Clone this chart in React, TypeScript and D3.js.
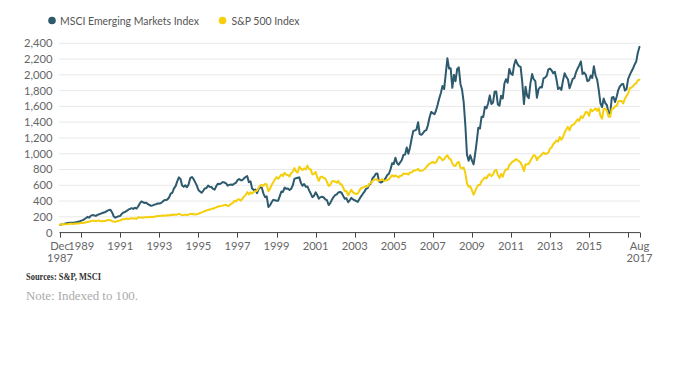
import React from "react";
import * as d3 from "d3";

const W = 682;
const H = 377;

const seriesNames = ["MSCI Emerging Markets Index", "S&P 500 Index"];
const seriesColors = ["#2d5a6d", "#f5cf0c"];

const startDate = new Date(1987, 11, 1);
const endDate = new Date(2017, 7, 1);

// Monthly values, Dec 1987 = 100, then Jan 1988 ... Aug 2017
const emValues: number[] = [
  100,
  103, 108, 114, 118, 121, 124, 126, 125, 128, 133, 137, 140,
  152, 158, 170, 185, 200, 190, 215, 222, 218, 212, 225, 232,
  240, 248, 255, 262, 275, 285, 290, 255, 205, 190, 200, 207,
  212, 240, 255, 262, 275, 290, 300, 310, 300, 315, 305, 331,
  370, 395, 385, 375, 380, 360, 350, 340, 345, 355, 360, 369,
  370, 375, 390, 410, 412, 420, 445, 495, 505, 560, 590, 650,
  700, 680, 600, 580, 600, 575, 610, 690, 705, 680, 640, 598,
  540, 520, 505, 530, 560, 565, 595, 580, 578, 555, 545, 590,
  620, 615, 625, 640, 635, 625, 595, 605, 610, 605, 620, 630,
  665, 680, 665, 665, 685, 705, 718, 640, 650, 560, 540, 545,
  500, 555, 575, 570, 495, 450, 460, 325, 345, 385, 415, 410,
  405, 405, 460, 520, 515, 570, 555, 560, 540, 555, 600, 680,
  690, 695, 700, 630, 595, 615, 580, 585, 535, 495, 450, 465,
  510, 475, 430, 450, 455, 445, 420, 410, 350, 375, 415, 450,
  475, 485, 510, 515, 505, 465, 430, 435, 385, 410, 440, 420,
  410, 400, 390, 425, 460, 490, 515, 555, 565, 610, 620, 690,
  710, 745, 750, 650, 635, 645, 660, 690, 730, 745, 800, 880,
  870, 950, 885, 860, 890, 920, 985, 990, 1080, 1000, 1080, 1190,
  1290, 1295, 1305, 1400, 1250, 1240, 1260, 1290, 1300, 1360, 1460, 1530,
  1515, 1500, 1545, 1620, 1700, 1770, 1860, 1820, 2020, 2210, 2080, 2085,
  1835, 2000, 1920, 2075, 2095, 1885, 1810, 1650, 1355, 990, 910, 980,
  915, 865, 990, 1150, 1330, 1320, 1470, 1465, 1595, 1575, 1640, 1740,
  1630, 1650, 1785, 1790, 1625, 1610, 1735, 1700, 1890, 1945, 1900, 2075,
  2015, 2000, 2125, 2190, 2140, 2110, 2100, 1905, 1630, 1850, 1730, 1705,
  1895, 2010, 1945, 1920, 1710, 1820, 1845, 1840, 1955, 1965, 1990, 2070,
  2080, 2055, 2020, 2040, 1945, 1820, 1840, 1810, 1930, 2020, 1975, 1945,
  1830, 1890, 1950, 1960, 2030, 2080, 2120, 2170, 2010, 2030, 2000, 1920,
  1930, 1990, 1960, 2110, 1995, 1940, 1810, 1640, 1590, 1700, 1640, 1615,
  1515, 1510, 1710, 1720, 1655, 1725, 1810, 1855, 1880, 1885, 1800, 1820,
  1950, 2000, 2040, 2080, 2130, 2170, 2280, 2355,
];

const spValues: number[] = [
  100,
  104, 109, 106, 107, 108, 113, 112, 108, 113, 116, 114, 117,
  125, 122, 125, 132, 137, 136, 148, 151, 151, 147, 150, 154,
  143, 145, 149, 146, 160, 159, 158, 144, 137, 136, 145, 149,
  155, 166, 170, 171, 178, 170, 178, 182, 179, 181, 174, 194,
  191, 193, 189, 195, 196, 193, 201, 197, 199, 200, 207, 209,
  211, 214, 218, 213, 218, 219, 218, 226, 224, 229, 227, 230,
  238, 231, 221, 224, 228, 222, 229, 238, 233, 238, 229, 233,
  239, 248, 256, 263, 274, 280, 289, 290, 302, 301, 314, 320,
  331, 334, 337, 342, 351, 352, 337, 344, 363, 373, 401, 394,
  418, 422, 405, 429, 455, 475, 513, 484, 511, 494, 516, 525,
  531, 569, 598, 604, 594, 618, 611, 523, 556, 602, 638, 675,
  703, 681, 708, 736, 718, 758, 734, 731, 711, 756, 771, 817,
  776, 761, 836, 811, 794, 813, 801, 850, 805, 802, 738, 743,
  769, 699, 655, 705, 710, 693, 686, 643, 591, 602, 649, 655,
  645, 633, 656, 617, 612, 569, 525, 528, 470, 512, 542, 510,
  497, 489, 494, 535, 563, 570, 580, 591, 585, 618, 624, 656,
  668, 677, 667, 657, 666, 679, 656, 659, 666, 676, 704, 728,
  710, 725, 712, 699, 721, 722, 749, 742, 748, 736, 763, 763,
  784, 786, 796, 806, 783, 784, 789, 808, 829, 856, 872, 884,
  897, 880, 890, 929, 962, 946, 916, 930, 965, 980, 939, 932,
  876, 848, 844, 885, 897, 821, 814, 826, 752, 626, 581, 587,
  537, 480, 522, 572, 604, 605, 651, 674, 699, 686, 727, 743,
  716, 739, 783, 796, 732, 694, 742, 709, 772, 801, 801, 855,
  875, 905, 905, 932, 921, 906, 888, 840, 781, 866, 864, 873,
  912, 951, 982, 976, 917, 955, 968, 990, 1015, 997, 1003, 1013,
  1065, 1080, 1120, 1142, 1168, 1153, 1212, 1177, 1213, 1269, 1308, 1341,
  1295, 1354, 1366, 1376, 1408, 1437, 1417, 1474, 1453, 1488, 1528, 1525,
  1479, 1564, 1540, 1555, 1575, 1544, 1577, 1481, 1445, 1567, 1572, 1546,
  1470, 1468, 1567, 1573, 1601, 1605, 1665, 1667, 1667, 1637, 1698, 1731,
  1764, 1834, 1836, 1855, 1881, 1893, 1932, 1938,
];

const yTicks = [0, 200, 400, 600, 800, 1000, 1200, 1400, 1600, 1800, 2000, 2200, 2400];

const xTickDates: Date[] = [
  new Date(1987, 11, 1),
  new Date(1989, 0, 1), new Date(1991, 0, 1), new Date(1993, 0, 1), new Date(1995, 0, 1),
  new Date(1997, 0, 1), new Date(1999, 0, 1), new Date(2001, 0, 1), new Date(2003, 0, 1),
  new Date(2005, 0, 1), new Date(2007, 0, 1), new Date(2009, 0, 1), new Date(2011, 0, 1),
  new Date(2013, 0, 1), new Date(2015, 0, 1), new Date(2017, 0, 1), new Date(2017, 7, 1),
];
const xTickLabels: string[][] = [
  ["Dec", "1987"], ["1989"], ["1991"], ["1993"], ["1995"], ["1997"], ["1999"], ["2001"],
  ["2003"], ["2005"], ["2007"], ["2009"], ["2011"], ["2013"], ["2015"], [], ["Aug", "2017"],
];

const sourceText = "Sources: S&P, MSCI";
const noteText = "Note: Indexed to 100.";

const SANS = "Lato, 'Open Sans', sans-serif";
const SERIF = "'Liberation Serif', 'DejaVu Serif', serif";

const legendLayout = [
  { cx: 52, tx: 60, len: 139 },
  { cx: 222.5, tx: 231.5, len: 68 },
];

export default function App() {
  const x = d3.scaleTime().domain([startDate, endDate]).range([60, 639.5]);
  const y = d3.scaleLinear().domain([0, 2400]).range([232.6, 43.3]);

  const monthDate = (i: number) => d3.timeMonth.offset(startDate, i);
  const line = d3
    .line<number>()
    .x((_, i) => x(monthDate(i)))
    .y((v) => y(v))
    .curve(d3.curveLinear);

  const series = [emValues, spValues];

  return (
    <div style={{ position: "fixed", left: 0, top: 0, width: W, height: H, background: "#fff" }}>
      <svg width={W} height={H} style={{ display: "block" }}>
        <rect x={0} y={0} width={W} height={H} fill="#fff" />
        {/* legend */}
        {seriesNames.map((name, i) => {
          const L = legendLayout[i];
          return (
            <g key={name}>
              <circle cx={L.cx} cy={20.5} r={3.8} fill={seriesColors[i]} />
              <text
                x={L.tx}
                y={24.5}
                fontFamily={SANS}
                fontSize={11.2}
                fill="#555"
                textLength={L.len}
                lengthAdjust="spacingAndGlyphs"
              >
                {name}
              </text>
            </g>
          );
        })}
        {/* gridlines and y labels */}
        {yTicks.map((t) => (
          <g key={t}>
            {t > 0 && (
              <line x1={59} x2={640} y1={y(t)} y2={y(t)} stroke="#e9e9e9" strokeWidth={1} />
            )}
            <text
              x={52.5}
              y={y(t)}
              dy="0.35em"
              textAnchor="end"
              fontFamily={SANS}
              fontSize={11.2}
              fill="#666"
            >
              {d3.format(",")(t)}
            </text>
          </g>
        ))}
        {/* series lines */}
        {series.map((vals, i) => (
          <path
            key={i}
            d={line(vals) || ""}
            fill="none"
            stroke={seriesColors[i]}
            strokeWidth={2}
            strokeLinejoin="round"
            strokeLinecap="round"
          />
        ))}
        {/* x axis */}
        <line x1={59.5} x2={640} y1={y(0)} y2={y(0)} stroke="#444" strokeWidth={1} />
        {xTickDates.map((d, i) => {
          const tx = Math.round(x(d)) + 0.5;
          return (
            <g key={i}>
              <line x1={tx} x2={tx} y1={y(0)} y2={y(0) + 5} stroke="#444" strokeWidth={1} />
              {xTickLabels[i].map((s, j) => (
                <text
                  key={j}
                  x={x(d)}
                  y={249.5 + j * 12}
                  textAnchor="middle"
                  fontFamily={SANS}
                  fontSize={11.2}
                  fill="#666"
                >
                  {s}
                </text>
              ))}
            </g>
          );
        })}
        {/* footer */}
        <text
          x={26}
          y={279.5}
          fontFamily={SERIF}
          fontSize={9.5}
          fontWeight={600}
          fill="#333"
          textLength={75}
          lengthAdjust="spacingAndGlyphs"
        >
          {sourceText}
        </text>
        <text
          x={26}
          y={299.5}
          fontFamily={SERIF}
          fontSize={13}
          fill="#aaa"
          textLength={112}
          lengthAdjust="spacingAndGlyphs"
        >
          {noteText}
        </text>
      </svg>
    </div>
  );
}
